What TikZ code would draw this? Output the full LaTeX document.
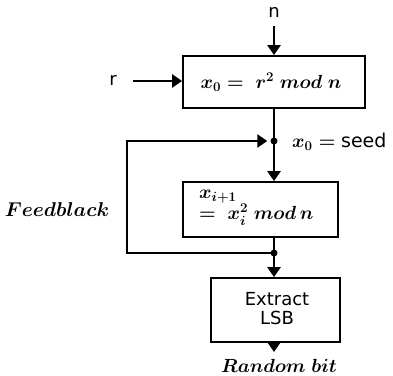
\RequirePackage{fix-cm}
\documentclass[tikz,border=0pt]{standalone}
\usepackage{fontspec}
\setsansfont{DejaVu Sans}
\usetikzlibrary{arrows.meta}
\tikzset{
  box/.style={draw, line width=1.8pt, rectangle, inner sep=0pt},
  wire/.style={line width=2.5pt},
  arr/.style={wire, -{Triangle[width=13pt,length=10pt]}},
  junction/.style={circle, fill, inner sep=0pt, minimum size=7pt},
  mtxt/.style={font=\fontsize{19}{21}\selectfont\boldmath, inner sep=0pt},
  stxt/.style={font=\sffamily\fontsize{18}{21}\selectfont, inner sep=0pt},
}
\begin{document}
\begin{tikzpicture}[x=1pt,y=-1pt]
\useasboundingbox (0,0) rectangle (393,375);
% boxes
\node[box, minimum width=182pt, minimum height=52pt] (b1) at (274,82) {};
\node[mtxt] (t1) at (271,82) {$x_0 =\ r^2\ mod\ n$};
\node[box, minimum width=155pt, minimum height=55pt] (b2) at (260.5,209.5) {};
\node[mtxt, anchor=west] (t2a) at (199,197) {$x_{i+1}$};
\node[mtxt, anchor=west] (t2b) at (199,215) {$=\ x_i^2\ mod\,n$};
\node[box, minimum width=129pt, minimum height=64pt] (b3) at (275.5,310) {};
\node[stxt, align=center] (t3) at (277,309) {Extract\\[-2pt]LSB};
% labels
\node[stxt] (n) at (274,12) {n};
\node[stxt] (r) at (113,80) {r};
\node[mtxt, anchor=west] (seed) at (292,142) {$x_0 =$ \textsf{seed}};
\node[mtxt, font=\fontsize{20}{22}\selectfont\boldmath] (fb) at (57,210) {$Feedblack$};
\node[mtxt] (rb) at (279,366) {$Random\ bit$};
% junctions and coordinates
\node[junction] (d1) at (274,141) {};
\node[junction] (d2) at (274,253) {};
\coordinate (nin) at (274,26);
\coordinate (rin) at (133,81);
\coordinate (fbl1) at (127,253);
\coordinate (fbl2) at (127,141);
\coordinate (out) at (274,352);
% connectors
\draw[arr] (nin) -- (b1.north);
\draw[arr] (rin) -- (b1.west |- rin);
\draw[wire] (b1.south) -- (d1.center);
\draw[arr] (d1.center) -- (b2.north -| d1);
\draw[wire] (b2.south -| d1) -- (d2.center);
\draw[arr] (d2.center) -- (b3.north -| d2);
\draw[arr] (b3.south -| d2) -- (out);
\draw[arr, shorten >=3pt] (d2.center) -- (fbl1) -- (fbl2) -- (d1);
\end{tikzpicture}
\end{document}
